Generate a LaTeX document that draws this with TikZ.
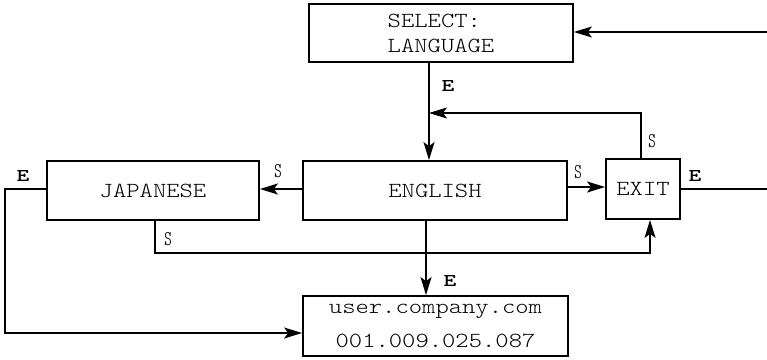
\documentclass[tikz,border=0pt]{standalone}
\usepackage{fontspec}
\usetikzlibrary{arrows.meta}
\newfontfamily\boxfont{lmmonolt10-regular}[Extension=.otf, FakeStretch=1.18]
\newfontfamily\efont{lmmonolt10-bold}[Extension=.otf, FakeStretch=1.35]
\newfontfamily\sfontx{lmmonoltcond10-regular}[Extension=.otf]
\begin{document}
\begin{tikzpicture}[x=1pt,y=-1pt,
  box/.style={draw, line width=1.8pt, inner sep=0pt, font=\boxfont\fontsize{21.5}{25}\selectfont},
  conn/.style={line width=1.3pt},
  arr/.style={conn, -{Stealth[length=18pt,width=11pt,inset=4pt]}},
  elbl/.style={font=\efont\fontsize{18}{20}\selectfont, inner sep=0pt},
  slbl/.style={font=\sfontx\fontsize{21}{22}\selectfont, inner sep=0pt}]
\useasboundingbox (0,0) rectangle (767,359);

\node[box, minimum width=264pt, minimum height=58pt, align=left] (sel) at (441,33) {SELECT:\\LANGUAGE};
\node[box, minimum width=264pt, minimum height=59pt] (eng) at (435,190.5) {ENGLISH};
\node[box, minimum width=212pt, minimum height=59pt] (jap) at (153,190.5) {JAPANESE};
\node[box, minimum width=74pt, minimum height=60pt] (exit) at (643,189) {EXIT};
\node[box, minimum width=265pt, minimum height=60pt, align=center] (usr) at (435.5,326) {user.company.com\\[9pt]001.009.025.087};

\coordinate (rin) at (767,32);
\coordinate (rout) at (767,189);
\coordinate (vx) at (429,0);
\coordinate (fb) at (641,113);
\coordinate (sy) at (0,187);
\coordinate (jy) at (0,189);
\coordinate (lx) at (5,333);
\coordinate (jx) at (155,253);
\coordinate (ex) at (650,0);
\coordinate (dx) at (426,0);

\draw[arr] (rin) -- (rin -| sel.east);
\draw[arr] (sel.south -| vx) -- (eng.north -| vx);
\draw[arr] (exit.north -| fb) -- (fb) -- (fb -| vx);
\draw[arr] (eng.east |- sy) -- (exit.west |- sy);
\draw[conn] (exit.east) -- (exit.east -| rout);
\draw[arr] (eng.west |- jy) -- (jap.east |- jy);
\draw[arr] (jap.west |- jy) -| (lx) -- (lx -| usr.west);
\draw[arr] (jap.south -| jx) -- (jx) -| (exit.south -| ex);
\draw[arr] (eng.south -| dx) -- (usr.north -| dx);

\node[elbl] (e1) at (448,86) {E};
\node[slbl] (s1) at (652,141) {S};
\node[slbl] (s2) at (578,172) {S};
\node[elbl] (e2) at (695,176) {E};
\node[slbl] (s3) at (278,171) {S};
\node[elbl] (e3) at (23,176) {E};
\node[slbl] (s4) at (168,239) {S};
\node[elbl] (e4) at (450,281) {E};
\end{tikzpicture}
\end{document}
